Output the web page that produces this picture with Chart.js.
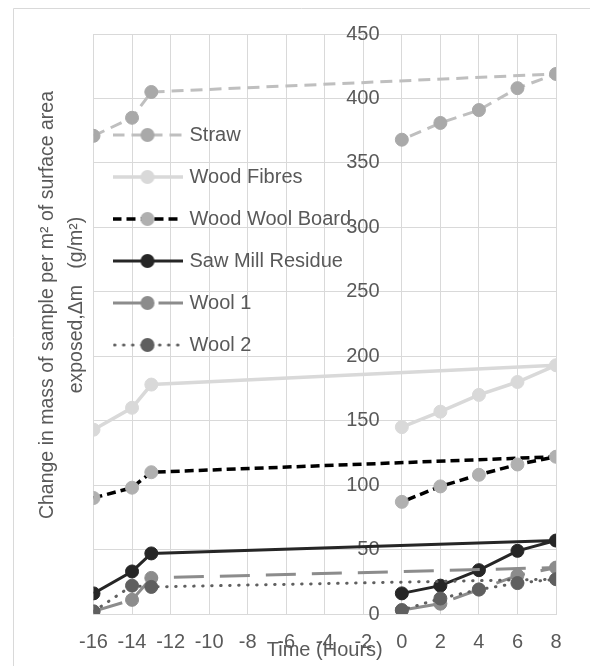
<!DOCTYPE html>
<html>
<head>
<meta charset="utf-8">
<script src="https://cdn.jsdelivr.net/npm/chart.js@4.4.1/dist/chart.umd.min.js"></script>
<style>
  body { margin: 0; background: #fff; }
  canvas { display: block; }
</style>
</head>
<body>
<canvas id="chart" width="590" height="666"></canvas>
<script>
const times = [-16, -14, -13, 8, 6, 4, 2, 0];

const seriesNames = ["Straw", "Wood Fibres", "Wood Wool Board", "Saw Mill Residue", "Wool 1", "Wool 2"];
const straw = [371, 385, 405, 419, 408, 391, 381, 368];
const woodFibres = [143, 160, 178, 193, 180, 170, 157, 145];
const woodWoolBoard = [90, 98, 110, 122, 116, 108, 99, 87];
const sawMill = [16, 33, 47, 57, 49, 34, 22, 16];
const wool1 = [2, 11, 28, 36, 30, 19, 8, 3];
const wool2 = [2, 22, 21, 27, 24, 19, 12, 3];

const xTicks = { min: -16, max: 8, step: 2 };
const yTicks = { min: 0, max: 450, step: 50 };

// leading spaces lift the rotated title a little, like the original
const yTitle = ["       Change in mass of sample per m\u00b2 of surface area", "       exposed,\u0394m   (g/m\u00b2)"];
const xTitle = "Time (Hours)";

const textColor = "#595959";
const gridColor = "#d9d9d9";
const fontFamily = "'Liberation Sans', Arial, sans-serif";

// line style per series: line colour, marker colour, dash, width, cap
const styles = [
  { line: "#bfbfbf", mark: "#a9a9a9", dash: [12, 7], width: 3, cap: "butt" },
  { line: "#d9d9d9", mark: "#d9d9d9", dash: [], width: 3.5, cap: "butt" },
  { line: "#000000", mark: "#b0b0b0", dash: [9, 5], width: 3.5, cap: "butt" },
  { line: "#262626", mark: "#262626", dash: [], width: 3, cap: "butt" },
  { line: "#8c8c8c", mark: "#8c8c8c", dash: [30, 16], width: 3, cap: "butt" },
  { line: "#5f5f5f", mark: "#5f5f5f", dash: [0.5, 8.5], width: 3, cap: "round" },
];
const allValues = [straw, woodFibres, woodWoolBoard, sawMill, wool1, wool2];

function legendSample(s) {
  const c = document.createElement("canvas");
  c.width = 70;
  c.height = 16;
  const g = c.getContext("2d");
  g.strokeStyle = s.line;
  g.lineWidth = s.width;
  g.lineCap = s.cap;
  g.setLineDash(s.dash);
  g.beginPath();
  g.moveTo(s.cap === "round" ? 2 : 0, 8);
  g.lineTo(70, 8);
  g.stroke();
  g.fillStyle = s.mark;
  g.beginPath();
  g.arc(35, 8, 7, 0, Math.PI * 2);
  g.fill();
  return c;
}

const datasets = seriesNames.map((name, i) => ({
  label: name,
  data: times.map((t, k) => ({ x: t, y: allValues[i][k] })),
  showLine: true,
  borderColor: styles[i].line,
  borderWidth: styles[i].width,
  borderDash: styles[i].dash,
  borderCapStyle: styles[i].cap,
  backgroundColor: styles[i].mark,
  pointBackgroundColor: styles[i].mark,
  pointBorderColor: styles[i].mark,
  pointBorderWidth: 1,
  pointRadius: 6.5,
  tension: 0,
  order: seriesNames.length - i,
}));

const legendSamples = styles.map(legendSample);

const frame = {
  id: "frame",
  beforeDraw(chart) {
    const c = chart.ctx;
    c.save();
    c.strokeStyle = gridColor;
    c.lineWidth = 1;
    c.beginPath();
    c.moveTo(13.5, chart.height);
    c.lineTo(13.5, 8.5);
    c.lineTo(chart.width, 8.5);
    c.stroke();
    c.restore();
  },
  afterLayout(chart) {
    // legend sits inside the plot, upper left
    const lg = chart.legend;
    const area = chart.chartArea;
    const dy = area.top + 69 - lg.top;
    lg.top += dy;
    lg.bottom += dy;
    const dx = area.left - lg.left;
    lg.left += dx;
    lg.right += dx;
  },
};

Chart.defaults.font.family = fontFamily;
Chart.defaults.color = textColor;

new Chart(document.getElementById("chart"), {
  type: "scatter",
  data: { datasets },
  plugins: [frame],
  options: {
    responsive: false,
    animation: false,
    devicePixelRatio: 1,
    layout: { padding: { left: 20, right: 34, top: 34, bottom: 4 } },
    plugins: {
      tooltip: { enabled: false },
      legend: {
        position: "chartArea",
        align: "start",
        labels: {
          usePointStyle: true,
          pointStyleWidth: 64,
          padding: 22,
          color: textColor,
          font: { size: 20 },
          sort: (a, b) => a.datasetIndex - b.datasetIndex,
          generateLabels(chart) {
            const items = Chart.defaults.plugins.legend.labels.generateLabels(chart);
            items.forEach((it) => {
              it.pointStyle = legendSamples[it.datasetIndex];
            });
            return items;
          },
        },
      },
    },
    scales: {
      x: {
        type: "linear",
        position: "bottom",
        min: xTicks.min,
        max: xTicks.max,
        ticks: { stepSize: xTicks.step, padding: 16, font: { size: 20 }, color: textColor },
        grid: { color: gridColor, drawTicks: false },
        border: { color: gridColor },
        title: {
          display: true,
          text: xTitle,
          color: textColor,
          font: { size: 20 },
          padding: { top: -32, bottom: 0 },
        },
      },
      y: {
        type: "linear",
        position: { x: 0 },
        min: yTicks.min,
        max: yTicks.max,
        ticks: {
          stepSize: yTicks.step,
          font: { size: 20 },
          color: textColor,
          // labels sit right-aligned on the axis; trailing spaces give the gap
          callback: (v) => v + "    ",
        },
        grid: { color: gridColor, drawTicks: false },
        border: { color: gridColor },
      },
      yt: {
        type: "linear",
        position: "left",
        min: yTicks.min,
        max: yTicks.max,
        ticks: { display: false },
        grid: { display: false, drawTicks: false },
        border: { display: false },
        title: {
          display: true,
          text: yTitle,
          color: textColor,
          font: { size: 19.5, lineHeight: 1.5 },
          padding: { top: 13, bottom: 2 },
        },
      },
    },
  },
});
</script>
</body>
</html>
